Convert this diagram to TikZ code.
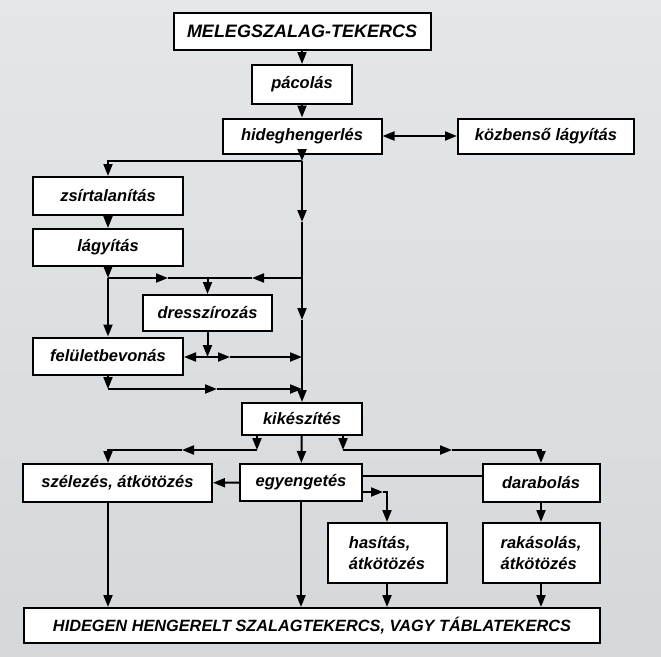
\documentclass[tikz,border=0pt]{standalone}
\usepackage{fontspec}
\setmainfont{Liberation Sans}
\usetikzlibrary{arrows.meta,calc}
\definecolor{bgtop}{RGB}{228,231,232}
\definecolor{bgbot}{RGB}{212,216,218}
\begin{document}
\begin{tikzpicture}[x=1pt,y=-1pt,
  line width=2pt,
  box/.style={draw=black, fill=white, line width=2pt, inner sep=0pt, align=center,
    font=\fontsize{16.5}{21}\selectfont\bfseries\itshape},
  arr/.style={-{Triangle[length=12pt,width=9pt]}},
  barr/.style={{Triangle[length=12pt,width=9pt]}-{Triangle[length=12pt,width=9pt]}}]
\shade[top color=bgtop, bottom color=bgbot] (0,0) rectangle (661,656);
\useasboundingbox (0,0) rectangle (661,656);

% nodes
\node[box, minimum width=257pt, minimum height=37pt, font=\fontsize{18}{22}\selectfont\bfseries\itshape] (meleg) at (302,31.5) {MELEGSZALAG-TEKERCS};
\node[box, minimum width=100pt, minimum height=39pt] (pac) at (302,84.5) {pácolás};
\node[box, minimum width=159pt, minimum height=35pt] (hideg) at (302,136) {hideghengerlés};
\node[box, minimum width=176pt, minimum height=35pt] (kozb) at (546,136) {közbenső lágyítás};
\node[box, minimum width=150pt, minimum height=38pt] (zsir) at (108,196) {zsírtalanítás};
\node[box, minimum width=150pt, minimum height=37pt] (lagy) at (108,247.5) {lágyítás};
\node[box, minimum width=129pt, minimum height=36pt] (dressz) at (207.5,313) {dresszírozás};
\node[box, minimum width=150pt, minimum height=37pt] (felulet) at (108,356) {felületbevonás};
\node[box, minimum width=120pt, minimum height=32pt] (kikesz) at (302,419) {kikészítés};
\node[box, minimum width=189pt, minimum height=38pt] (szelez) at (117.5,483) {szélezés, átkötözés};
\node[box, minimum width=122pt, minimum height=37pt] (egyeng) at (301,482.5) {egyengetés};
\node[box, minimum width=117pt, minimum height=38pt] (darab) at (541,483) {darabolás};
\node[box, minimum width=119pt, minimum height=60pt, align=left] (hasit) at (387,553) {hasítás,\\átkötözés};
\node[box, minimum width=117pt, minimum height=60pt, align=left] (rakas) at (541,553) {rakásolás,\\átkötözés};
\node[box, minimum width=576pt, minimum height=35pt, font=\fontsize{16.3}{20}\selectfont\bfseries\itshape] (bottom) at (312,625.5) {HIDEGEN HENGERELT SZALAGTEKERCS, VAGY TÁBLATEKERCS};

% junction coordinates
\coordinate (j1) at (302,161);
\coordinate (m1) at (302,222);
\coordinate (m2) at (302,320);
\coordinate (j2) at (302,278);
\coordinate (j3) at (302,357);
\coordinate (j4) at (302,389);
\coordinate (zl) at (108,161);
\coordinate (j5) at (108,278);
\coordinate (h1) at (168,278);
\coordinate (j6) at (207.5,278);
\coordinate (h2) at (252,278);
\coordinate (j7) at (207.5,357);
\coordinate (h3) at (230,357);
\coordinate (j8) at (108,389);
\coordinate (h4) at (217,389);
\coordinate (k1) at (257,450);
\coordinate (h5) at (182,450);
\coordinate (k1l) at (108,450);
\coordinate (k2) at (343,450);
\coordinate (h6) at (452,450);
\coordinate (h7) at (383,492);

% top chain
\draw[arr] (meleg) -- (pac);
\draw[arr] (pac) -- (hideg);
\draw[barr] (hideg) -- (kozb);
\draw[arr] (hideg) -- (j1);
\draw[arr] (j1) -- (zl) -- (zsir);
\draw[arr] (zsir) -- (lagy);

% main vertical
\draw[arr] (j1) -- (m1);
\draw[arr] (m1) -- (m2);
\draw[arr] (m2) -- (kikesz);

% lagyitas branch
\draw[arr] (lagy) -- (j5);
\draw[arr] (j5) -- (felulet);
\draw[arr] (j5) -- (h1);
\draw (h1) -- (j6);
\draw[arr] (j2) -- (h2);
\draw (h2) -- (j6);
\draw[arr] (j6) -- (dressz);

% dresszirozas
\draw[arr] (dressz) -- (j7);
\draw[arr] (j7) -- (j7 -| felulet.east);
\draw[arr] (j7) -- (h3);
\draw[arr] (h3) -- (j3);

% feluletbevonas
\draw[arr] (felulet) -- (j8);
\draw[arr] (j8) -- (h4);
\draw[arr] (h4) -- (j4);

% kikeszites branches
\draw[arr] (kikesz.south -| k1) -- (k1);
\draw[arr] (k1) -- (h5);
\draw[arr] (h5) -- (k1l) -- (szelez.north -| k1l);
\draw[arr] (kikesz) -- (egyeng);
\draw[arr] (kikesz.south -| k2) -- (k2);
\draw[arr] (k2) -- (h6);
\draw[arr] (h6) -| (darab.north);

% egyengetes
\draw[arr] (egyeng) -- (szelez);
\draw ($(egyeng.east)+(0,-6.5)$) -- ($(darab.west)+(0,-7)$);
\draw[arr] (egyeng.east |- h7) -- (h7);
\draw[arr] (h7) -| (hasit.north);
\draw[arr] (darab) -- (rakas);

% to bottom
\draw[arr] (szelez.south -| k1l) -- (bottom.north -| k1l);
\draw[arr] (egyeng) -- (egyeng |- bottom.north);
\draw[arr] (hasit) -- (hasit |- bottom.north);
\draw[arr] (rakas) -- (rakas |- bottom.north);
\end{tikzpicture}
\end{document}
